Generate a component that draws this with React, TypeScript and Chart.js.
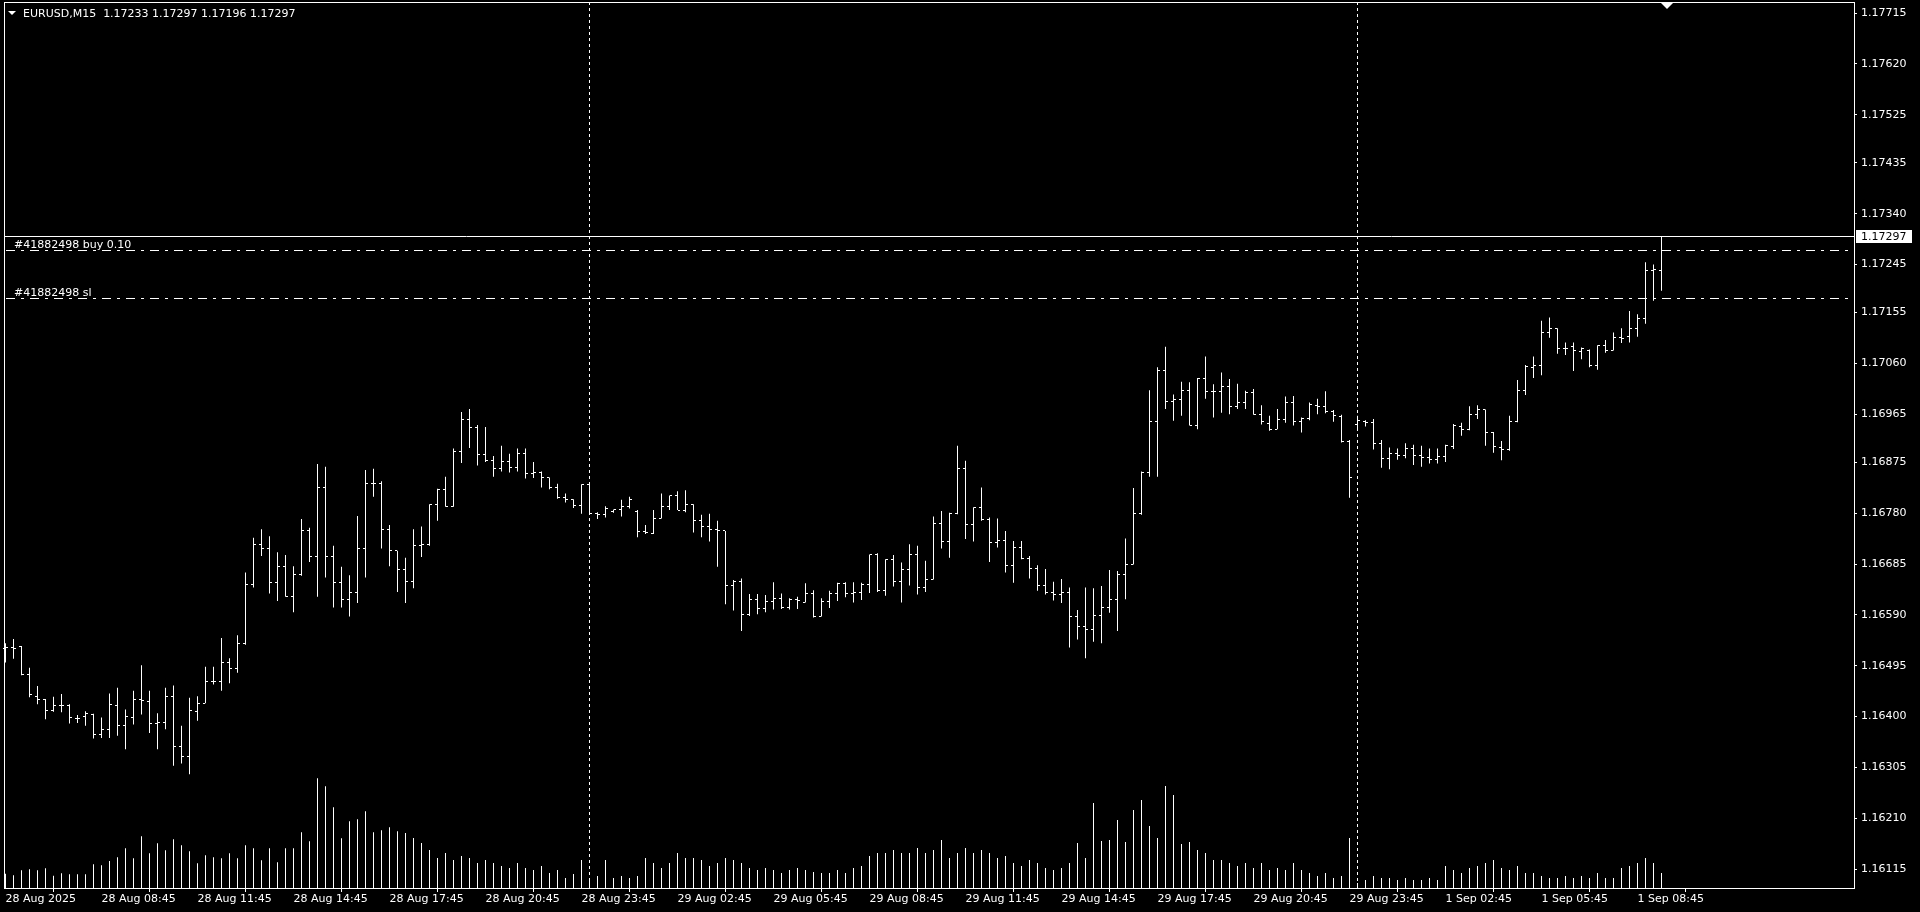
import { useEffect, useRef } from 'react';
import { Chart, registerables } from 'chart.js';
Chart.register(...registerables);

// ---- data ----
const opens = [
  1.16527, 1.16529, 1.16530, 1.16479, 1.16438, 1.16431, 1.16412, 1.16420, 1.16420, 1.16397,
  1.16400, 1.16403, 1.16367, 1.16375, 1.16421, 1.16384, 1.16398, 1.16431, 1.16429, 1.16387,
  1.16388, 1.16437, 1.16344, 1.16326, 1.16410, 1.16425, 1.16466, 1.16465, 1.16501, 1.16489,
  1.16537, 1.16646, 1.16722, 1.16714, 1.16651, 1.16681, 1.16624, 1.16666, 1.16747, 1.16700,
  1.16828, 1.16699, 1.16651, 1.16619, 1.16631, 1.16714, 1.16836, 1.16836, 1.16749, 1.16710,
  1.16674, 1.16652, 1.16719, 1.16721, 1.16797, 1.16825, 1.16793, 1.16895, 1.16956, 1.16941,
  1.16889, 1.16879, 1.16863, 1.16877, 1.16866, 1.16891, 1.16855, 1.16856, 1.16847, 1.16828,
  1.16810, 1.16806, 1.16795, 1.16833, 1.16780, 1.16778, 1.16784, 1.16787, 1.16792, 1.16784,
  1.16746, 1.16742, 1.16770, 1.16793, 1.16813, 1.16786, 1.16796, 1.16767, 1.16756, 1.16750,
  1.16747, 1.16644, 1.16652, 1.16591, 1.16619, 1.16602, 1.16615, 1.16620, 1.16604, 1.16619,
  1.16614, 1.16630, 1.16587, 1.16615, 1.16630, 1.16649, 1.16630, 1.16631, 1.16647, 1.16702,
  1.16635, 1.16693, 1.16652, 1.16674, 1.16703, 1.16641, 1.16656, 1.16761, 1.16727, 1.16780,
  1.16863, 1.16759, 1.16791, 1.16769, 1.16726, 1.16729, 1.16682, 1.16716, 1.16696, 1.16676,
  1.16644, 1.16632, 1.16628, 1.16632, 1.16587, 1.16568, 1.16563, 1.16588, 1.16603, 1.16619,
  1.16666, 1.16684, 1.16780, 1.16856, 1.16952, 1.17046, 1.16989, 1.16993, 1.17010, 1.16944,
  1.17031, 1.17007, 1.17008, 1.17017, 1.16980, 1.16987, 1.17006, 1.16965, 1.16948, 1.16937,
  1.16955, 1.16987, 1.16952, 1.16958, 1.16982, 1.16980, 1.16971, 1.16960, 1.16914, 1.16946,
  1.16951, 1.16949, 1.16911, 1.16883, 1.16892, 1.16888, 1.16901, 1.16888, 1.16884, 1.16881,
  1.16886, 1.16904, 1.16942, 1.16937, 1.16965, 1.16973, 1.16931, 1.16902, 1.16900, 1.16951,
  1.17010, 1.17052, 1.17057, 1.17118, 1.17125, 1.17087, 1.17092, 1.17083, 1.17085, 1.17056,
  1.17093, 1.17084, 1.17108, 1.17111, 1.17126, 1.17144, 1.17233, 1.17233,
];
const highs = [
  1.16537, 1.16545, 1.16532, 1.16491, 1.16457, 1.16433, 1.16437, 1.16442, 1.16423, 1.16403,
  1.16410, 1.16405, 1.16398, 1.16443, 1.16454, 1.16413, 1.16448, 1.16496, 1.16448, 1.16406,
  1.16454, 1.16458, 1.16383, 1.16435, 1.16438, 1.16493, 1.16493, 1.16547, 1.16509, 1.16552,
  1.16669, 1.16734, 1.16750, 1.16737, 1.16707, 1.16702, 1.16681, 1.16769, 1.16753, 1.16872,
  1.16867, 1.16719, 1.16680, 1.16664, 1.16775, 1.16861, 1.16863, 1.16840, 1.16758, 1.16710,
  1.16697, 1.16750, 1.16755, 1.16797, 1.16826, 1.16848, 1.16901, 1.16969, 1.16975, 1.16945,
  1.16941, 1.16887, 1.16906, 1.16891, 1.16901, 1.16901, 1.16876, 1.16858, 1.16847, 1.16835,
  1.16817, 1.16806, 1.16834, 1.16836, 1.16782, 1.16793, 1.16787, 1.16805, 1.16811, 1.16786,
  1.16758, 1.16786, 1.16817, 1.16813, 1.16821, 1.16823, 1.16797, 1.16777, 1.16779, 1.16766,
  1.16747, 1.16655, 1.16658, 1.16629, 1.16629, 1.16627, 1.16651, 1.16630, 1.16621, 1.16624,
  1.16649, 1.16636, 1.16621, 1.16635, 1.16650, 1.16651, 1.16651, 1.16650, 1.16703, 1.16705,
  1.16694, 1.16702, 1.16688, 1.16722, 1.16719, 1.16691, 1.16774, 1.16784, 1.16781, 1.16906,
  1.16878, 1.16791, 1.16828, 1.16772, 1.16770, 1.16747, 1.16728, 1.16728, 1.16700, 1.16683,
  1.16676, 1.16652, 1.16657, 1.16641, 1.16599, 1.16641, 1.16640, 1.16644, 1.16674, 1.16672,
  1.16733, 1.16827, 1.16858, 1.17010, 1.17053, 1.17091, 1.17002, 1.17026, 1.17025, 1.17033,
  1.17073, 1.17021, 1.17043, 1.17031, 1.17022, 1.17009, 1.17012, 1.16982, 1.16962, 1.16975,
  1.16998, 1.16999, 1.16959, 1.16987, 1.16994, 1.17008, 1.16973, 1.16964, 1.16917, 1.16962,
  1.16954, 1.16956, 1.16917, 1.16903, 1.16901, 1.16911, 1.16908, 1.16906, 1.16901, 1.16901,
  1.16908, 1.16947, 1.16949, 1.16980, 1.16982, 1.16974, 1.16932, 1.16915, 1.16962, 1.17029,
  1.17057, 1.17073, 1.17140, 1.17146, 1.17126, 1.17099, 1.17099, 1.17090, 1.17086, 1.17094,
  1.17104, 1.17118, 1.17126, 1.17158, 1.17152, 1.17249, 1.17245, 1.17297,
];
const lows = [
  1.16501, 1.16508, 1.16477, 1.16436, 1.16423, 1.16395, 1.16409, 1.16408, 1.16387, 1.16388,
  1.16383, 1.16359, 1.16360, 1.16360, 1.16364, 1.16339, 1.16385, 1.16404, 1.16369, 1.16339,
  1.16376, 1.16308, 1.16312, 1.16292, 1.16392, 1.16425, 1.16460, 1.16448, 1.16462, 1.16482,
  1.16534, 1.16641, 1.16700, 1.16630, 1.16616, 1.16624, 1.16595, 1.16663, 1.16689, 1.16624,
  1.16660, 1.16604, 1.16604, 1.16587, 1.16612, 1.16660, 1.16811, 1.16714, 1.16681, 1.16633,
  1.16612, 1.16640, 1.16698, 1.16719, 1.16766, 1.16792, 1.16792, 1.16874, 1.16902, 1.16869,
  1.16876, 1.16848, 1.16858, 1.16856, 1.16858, 1.16845, 1.16846, 1.16828, 1.16825, 1.16807,
  1.16800, 1.16790, 1.16779, 1.16779, 1.16769, 1.16772, 1.16781, 1.16774, 1.16789, 1.16735,
  1.16741, 1.16741, 1.16770, 1.16786, 1.16786, 1.16782, 1.16744, 1.16735, 1.16727, 1.16680,
  1.16610, 1.16598, 1.16560, 1.16588, 1.16591, 1.16595, 1.16600, 1.16601, 1.16600, 1.16601,
  1.16613, 1.16585, 1.16587, 1.16603, 1.16616, 1.16623, 1.16613, 1.16618, 1.16631, 1.16633,
  1.16626, 1.16643, 1.16613, 1.16645, 1.16628, 1.16633, 1.16656, 1.16714, 1.16697, 1.16778,
  1.16732, 1.16727, 1.16766, 1.16689, 1.16716, 1.16669, 1.16650, 1.16694, 1.16658, 1.16635,
  1.16628, 1.16617, 1.16612, 1.16529, 1.16544, 1.16509, 1.16540, 1.16537, 1.16594, 1.16560,
  1.16619, 1.16684, 1.16777, 1.16848, 1.16848, 1.16975, 1.16953, 1.16962, 1.16944, 1.16937,
  1.16994, 1.16959, 1.16968, 1.16965, 1.16975, 1.16975, 1.16964, 1.16946, 1.16934, 1.16937,
  1.16949, 1.16944, 1.16931, 1.16954, 1.16965, 1.16967, 1.16951, 1.16912, 1.16809, 1.16936,
  1.16942, 1.16899, 1.16865, 1.16862, 1.16880, 1.16883, 1.16870, 1.16867, 1.16873, 1.16873,
  1.16876, 1.16900, 1.16925, 1.16935, 1.16956, 1.16906, 1.16893, 1.16879, 1.16897, 1.16950,
  1.17001, 1.17033, 1.17038, 1.17108, 1.17078, 1.17076, 1.17046, 1.17068, 1.17053, 1.17048,
  1.17080, 1.17084, 1.17098, 1.17099, 1.17110, 1.17134, 1.17177, 1.17196,
];
const closes = [
  1.16529, 1.16527, 1.16479, 1.16442, 1.16432, 1.16412, 1.16420, 1.16420, 1.16398, 1.16397,
  1.16405, 1.16367, 1.16376, 1.16423, 1.16384, 1.16401, 1.16431, 1.16430, 1.16387, 1.16388,
  1.16437, 1.16344, 1.16326, 1.16412, 1.16425, 1.16466, 1.16465, 1.16501, 1.16489, 1.16537,
  1.16646, 1.16722, 1.16714, 1.16651, 1.16681, 1.16624, 1.16666, 1.16747, 1.16700, 1.16828,
  1.16699, 1.16651, 1.16619, 1.16631, 1.16714, 1.16836, 1.16836, 1.16749, 1.16710, 1.16674,
  1.16652, 1.16719, 1.16721, 1.16797, 1.16825, 1.16793, 1.16895, 1.16956, 1.16941, 1.16889,
  1.16879, 1.16863, 1.16877, 1.16866, 1.16891, 1.16855, 1.16856, 1.16847, 1.16828, 1.16810,
  1.16806, 1.16795, 1.16833, 1.16780, 1.16778, 1.16788, 1.16787, 1.16792, 1.16805, 1.16746,
  1.16744, 1.16770, 1.16793, 1.16813, 1.16786, 1.16797, 1.16767, 1.16756, 1.16750, 1.16747,
  1.16644, 1.16652, 1.16591, 1.16619, 1.16602, 1.16615, 1.16620, 1.16604, 1.16619, 1.16616,
  1.16630, 1.16587, 1.16615, 1.16630, 1.16649, 1.16630, 1.16631, 1.16647, 1.16702, 1.16635,
  1.16693, 1.16652, 1.16674, 1.16703, 1.16641, 1.16656, 1.16761, 1.16727, 1.16780, 1.16863,
  1.16759, 1.16791, 1.16769, 1.16726, 1.16729, 1.16682, 1.16716, 1.16696, 1.16676, 1.16644,
  1.16632, 1.16628, 1.16632, 1.16587, 1.16568, 1.16563, 1.16588, 1.16603, 1.16619, 1.16666,
  1.16684, 1.16780, 1.16856, 1.16952, 1.17046, 1.16989, 1.16993, 1.17010, 1.16944, 1.17031,
  1.17007, 1.17008, 1.17017, 1.16980, 1.16987, 1.17006, 1.16965, 1.16951, 1.16937, 1.16955,
  1.16987, 1.16952, 1.16958, 1.16984, 1.16980, 1.16971, 1.16962, 1.16914, 1.16847, 1.16953,
  1.16950, 1.16911, 1.16883, 1.16892, 1.16888, 1.16901, 1.16888, 1.16884, 1.16881, 1.16886,
  1.16906, 1.16944, 1.16937, 1.16965, 1.16973, 1.16931, 1.16904, 1.16900, 1.16951, 1.17010,
  1.17054, 1.17057, 1.17118, 1.17126, 1.17087, 1.17087, 1.17085, 1.17087, 1.17056, 1.17093,
  1.17084, 1.17108, 1.17107, 1.17126, 1.17144, 1.17233, 1.17235, 1.17297,
];
const volumes = [
  143, 127, 177, 187, 177, 197, 123, 147, 137, 137,
  137, 237, 227, 270, 307, 397, 297, 517, 347, 447,
  377, 487, 427, 367, 247, 327, 307, 297, 347, 297,
  427, 397, 277, 397, 257, 397, 397, 557, 467, 1097,
  1017, 807, 497, 667, 687, 767, 557, 577, 607, 567,
  550, 500, 450, 380, 300, 350, 280, 320, 300,
  250, 280, 250, 220, 200, 250, 200, 180, 220, 150, 180, 100, 140, 280,
  80, 120, 280, 100, 120, 100, 120, 300, 250, 200, 250, 350, 300, 300, 280, 220, 250,
  300, 280, 250, 200, 180, 200, 180, 150, 180, 200, 180, 160, 150, 150, 180, 150, 200, 220,
  320, 350, 350, 380, 350, 350, 400, 350, 380, 480, 300, 350, 400,
  350, 380, 350, 300, 320, 250, 220, 280, 250, 200, 180, 200, 250, 450, 300, 850, 470, 480, 680, 460,
  780, 880, 620, 500, 1020, 930, 440, 460, 380, 350, 280, 280, 250, 220, 250, 200, 250, 180, 200, 180,
  250, 180, 150, 120, 150, 100, 120, 500,
  50, 80, 120, 100, 100, 80, 100, 80, 80, 100, 80, 220, 180, 150, 200, 220, 250, 280, 200, 180,
  220, 150, 150, 120, 100, 100, 120, 100, 120, 100, 150, 100, 100, 200, 220, 250, 300, 250, 150,
];

const xTickIndex = [0, 12, 24, 36, 48, 60, 72, 84, 96, 108, 120, 132, 144, 156, 168, 180, 192, 204];
const xTickLabels = [
  '28 Aug 2025', '28 Aug 08:45', '28 Aug 11:45', '28 Aug 14:45', '28 Aug 17:45', '28 Aug 20:45',
  '28 Aug 23:45', '29 Aug 02:45', '29 Aug 05:45', '29 Aug 08:45', '29 Aug 11:45', '29 Aug 14:45',
  '29 Aug 17:45', '29 Aug 20:45', '29 Aug 23:45', '1 Sep 02:45', '1 Sep 05:45', '1 Sep 08:45',
];
const yTickValues = [
  1.17715, 1.17620, 1.17525, 1.17435, 1.17340, 1.17245, 1.17155, 1.17060, 1.16965,
  1.16875, 1.16780, 1.16685, 1.16590, 1.16495, 1.16400, 1.16305, 1.16210, 1.16115,
];
const separatorIndex = [73, 169];
const bidPrice = 1.17297;
const orderLines = [
  { price: 1.17271, label: '#41882498 buy 0.10' },
  { price: 1.17182, label: '#41882498 sl' },
];
const headerText = 'EURUSD,M15  1.17233 1.17297 1.17196 1.17297';

const Y_MIN = 1.160795;
const Y_MAX = 1.177356;
const X_MIN = -0.1875;
const X_MAX = 231.0625;
const VOL_MAX = 8860;
const FONT = "'DejaVu Sans', sans-serif";

const mtPlugin = {
  id: 'mt4look',
  beforeDraw(chart: any) {
    const ctx = chart.ctx;
    ctx.save();
    ctx.fillStyle = '#000';
    ctx.fillRect(0, 0, chart.width, chart.height);
    ctx.restore();
  },
  beforeDatasetsDraw(chart: any) {
    const ctx = chart.ctx;
    const xs = chart.scales.x;
    const a = chart.chartArea;
    ctx.save();
    ctx.strokeStyle = '#fff';
    ctx.lineWidth = 1;
    ctx.setLineDash([3, 3]);
    for (const idx of separatorIndex) {
      const px = Math.floor(xs.getPixelForValue(idx)) + 0.5;
      ctx.beginPath();
      ctx.moveTo(px, a.top);
      ctx.lineTo(px, a.bottom);
      ctx.stroke();
    }
    ctx.restore();
  },
  afterDatasetsDraw(chart: any) {
    const ctx = chart.ctx;
    const xs = chart.scales.x;
    const ys = chart.scales.y;
    const a = chart.chartArea;
    ctx.save();
    ctx.fillStyle = '#fff';
    for (let i = 0; i < opens.length; i++) {
      const px = Math.floor(xs.getPixelForValue(i));
      const yo = Math.round(ys.getPixelForValue(opens[i]) - 0.5);
      const yc = Math.round(ys.getPixelForValue(closes[i]) - 0.5);
      ctx.fillRect(px - 2, yo, 2, 1);
      ctx.fillRect(px + 1, yc, 2, 1);
    }
    // bid line
    ctx.strokeStyle = '#fff';
    ctx.lineWidth = 1;
    const yb = Math.round(ys.getPixelForValue(bidPrice) - 0.5) + 0.5;
    ctx.beginPath();
    ctx.moveTo(a.left, yb);
    ctx.lineTo(a.right, yb);
    ctx.stroke();
    // order lines
    ctx.setLineDash([9, 6, 3, 6]);
    ctx.font = `11px ${FONT}`;
    ctx.textBaseline = 'alphabetic';
    ctx.textAlign = 'left';
    for (const o of orderLines) {
      const y = Math.round(ys.getPixelForValue(o.price) - 0.5) + 0.5;
      ctx.beginPath();
      ctx.moveTo(a.left + 2, y);
      ctx.lineTo(a.right, y);
      ctx.stroke();
      ctx.fillText(o.label, a.left + 10, y - 2.5);
    }
    ctx.restore();
  },
  afterDraw(chart: any) {
    const ctx = chart.ctx;
    const ys = chart.scales.y;
    const a = chart.chartArea;
    ctx.save();
    ctx.strokeStyle = '#fff';
    ctx.lineWidth = 1;
    ctx.strokeRect(a.left + 0.5, a.top + 0.5, a.right - a.left, a.bottom - a.top);
    // header
    ctx.fillStyle = '#fff';
    ctx.beginPath();
    ctx.moveTo(8, 11);
    ctx.lineTo(16, 11);
    ctx.lineTo(12, 15);
    ctx.closePath();
    ctx.fill();
    ctx.font = `11px ${FONT}`;
    ctx.textBaseline = 'alphabetic';
    ctx.textAlign = 'left';
    ctx.fillText(headerText, 23, 17);
    // shift marker
    ctx.beginPath();
    ctx.moveTo(1661, 3);
    ctx.lineTo(1673, 3);
    ctx.lineTo(1667, 9);
    ctx.closePath();
    ctx.fill();
    // bid label box
    const yRow = Math.round(ys.getPixelForValue(bidPrice) - 0.5);
    ctx.fillRect(a.right + 2, yRow - 6, 56, 13);
    ctx.fillStyle = '#000';
    ctx.textBaseline = 'middle';
    ctx.fillText(bidPrice.toFixed(5), a.right + 7, yRow + 1);
    ctx.restore();
  },
};

export default function App() {
  const ref = useRef<HTMLCanvasElement | null>(null);
  useEffect(() => {
    document.body.style.margin = '0';
    document.body.style.background = '#000';
    const canvas = ref.current!;
    const rangeData = highs.map((h, i) => ({ x: i, y: [lows[i], h] }));
    const volData = volumes.map((v, i) => ({ x: i, y: v }));
    const chart = new Chart(canvas, {
      type: 'bar',
      data: {
        datasets: [
          {
            data: rangeData as any,
            yAxisID: 'y',
            backgroundColor: '#ffffff',
            borderWidth: 0,
            barThickness: 1,
            inflateAmount: 0,
            grouped: false,
          } as any,
          {
            data: volData as any,
            yAxisID: 'yv',
            backgroundColor: '#ffffff',
            borderWidth: 0,
            barThickness: 1,
            inflateAmount: 0,
            grouped: false,
          } as any,
        ],
      },
      options: {
        animation: false,
        responsive: false,
        devicePixelRatio: 1,
        events: [],
        layout: { padding: { left: 4, top: 2, right: 0, bottom: 0 } },
        plugins: { legend: { display: false }, tooltip: { enabled: false }, title: { display: false } },
        scales: {
          x: {
            type: 'linear',
            min: X_MIN,
            max: X_MAX,
            offset: false,
            afterBuildTicks: (s: any) => {
              s.ticks = xTickIndex.map((v) => ({ value: v }));
            },
            afterFit: (s: any) => {
              s.height = 24;
              s.paddingLeft = 0;
              s.paddingRight = 0;
            },
            grid: { display: true, drawOnChartArea: false, drawTicks: true, tickLength: 4, color: '#ffffff', lineWidth: 1 },
            border: { display: false },
            ticks: {
              color: '#ffffff',
              font: { family: FONT, size: 11 },
              padding: 1,
              align: 'start',
              maxRotation: 0,
              minRotation: 0,
              autoSkip: false,
              callback: (v: any) => {
                const k = xTickIndex.indexOf(Number(v));
                return k >= 0 ? xTickLabels[k] : '';
              },
            },
          } as any,
          y: {
            type: 'linear',
            position: 'right',
            min: Y_MIN,
            max: Y_MAX,
            afterBuildTicks: (s: any) => {
              s.ticks = yTickValues.map((v) => ({ value: v }));
            },
            afterFit: (s: any) => {
              s.width = 66;
              s.paddingTop = 0;
              s.paddingBottom = 0;
            },
            grid: { display: true, drawOnChartArea: false, drawTicks: true, tickLength: 3, color: '#ffffff', lineWidth: 1 },
            border: { display: false },
            ticks: {
              color: '#ffffff',
              font: { family: FONT, size: 11 },
              padding: 4,
              autoSkip: false,
              callback: (v: any) => Number(v).toFixed(5),
            },
          } as any,
          yv: {
            type: 'linear',
            display: false,
            min: 0,
            max: VOL_MAX,
          } as any,
        },
      },
      plugins: [mtPlugin],
    });
    return () => chart.destroy();
  }, []);
  return (
    <div style={{ position: 'absolute', left: 0, top: 0, width: 1920, height: 912, background: '#000' }}>
      <canvas ref={ref} width={1920} height={912} style={{ display: 'block', width: 1920, height: 912 }} />
    </div>
  );
}
